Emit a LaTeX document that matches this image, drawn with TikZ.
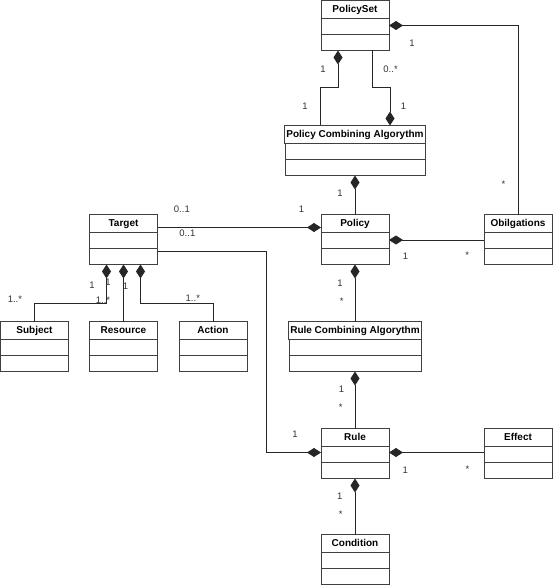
\documentclass[tikz,border=0pt]{standalone}
\usepackage{fontspec}
\setmainfont{Liberation Sans}
\usetikzlibrary{positioning, arrows.meta}

\begin{document}
\begin{tikzpicture}
[
>={Diamond[length=14pt, width=9pt]},
box-a/.style={draw=black!75, line width=0.9pt, minimum width=#1, minimum height=18pt, inner xsep=1.5pt, inner ysep=0pt, outer sep=0pt, text height=7.5pt, text depth=2pt, font=\fontsize{10}{12}\selectfont\bfseries},
box-a/.default=68pt,
box-b/.style={draw=black!75, line width=0.9pt, minimum width=#1, minimum height=32pt, inner sep=0pt, outer sep=0pt, path picture={\draw [black!75, line width=0.9pt] (path picture bounding box.west) -- (path picture bounding box.east);}},
box-b/.default=68pt,
text-a/.style={inner sep=0pt, text height=7pt, text depth=0pt, text=black!80, font=\fontsize{9.5}{11}\selectfont},
link-s/.style={draw=black!85, line width=0.9pt, <-},
link-e/.style={draw=black!85, line width=0.9pt, ->}
]

\useasboundingbox (0pt,0pt) rectangle (553pt,-585pt);

\node (set)        [box-a, anchor=north] at (355pt,-0.5pt)     {PolicySet};
\node (set-b)      [box-b, below =  00.00pt of set]            {};
\node (pca)        [box-a=140pt, below =  75.00pt of set-b]    {Policy Combining Algorythm};
\node (pca-b)      [box-b=140pt, below =  00.00pt of pca]      {};
\node (policy)     [box-a, below =  39.00pt of pca-b]          {Policy};
\node (policy-b)   [box-b, below =  00.00pt of policy]         {};
\node (rca)        [box-a=132pt, below =  57.00pt of policy-b] {Rule Combining Algorythm};
\node (rca-b)      [box-b=132pt, below =  00.00pt of rca]      {};
\node (rule)       [box-a, below =  57.00pt of rca-b]          {Rule};
\node (rule-b)     [box-b, below =  00.00pt of rule]           {};
\node (cond)       [box-a, below =  56.00pt of rule-b]         {Condition};
\node (cond-b)     [box-b, below =  00.00pt of cond]           {};
\node (obl)        [box-a, right =  95.00pt of policy]         {Obilgations};
\node (obl-b)      [box-b, below =  00.00pt of obl]            {};
\node (effect)     [box-a, right =  95.00pt of rule]           {Effect};
\node (effect-b)   [box-b, below =  00.00pt of effect]         {};
\node (target)     [box-a, left  = 163.50pt of policy]         {Target};
\node (target-b)   [box-b, below =  00.00pt of target]         {};
\node (resource)   [box-a, below =  57.00pt of target-b]       {Resource};
\node (resource-b) [box-b, below =  00.00pt of resource]       {};
\node (subject)    [box-a, left  =  21.00pt of resource]       {Subject};
\node (subject-b)  [box-b, below =  00.00pt of subject]        {};
\node (action)     [box-a, right =  21.50pt of resource]       {Action};
\node (action-b)   [box-b, below =  00.00pt of action]         {};

\draw [link-s] ([xshift=-17pt]set-b.south) -- node[text-a, left = 12pt] {1} ++(0pt,-37pt)
               -| node[text-a, pos=0.75, left = 12pt] {1} ([xshift=-35pt]pca.north);
\draw [link-e] ([xshift=17pt]set-b.south) -- node[text-a, right = 11pt] {0..*} ++(0pt,-37pt)
               -| node[text-a, pos=0.75, right = 10.5pt] {1} ([xshift=35pt]pca.north);
\draw [link-s] ([yshift=-7pt]set-b.north east) -| node[text-a, at start, below right = 13.5pt and 20pt] {1}
               node[text-a, pos=0.92, left = 12.2pt] {*} (obl.north);
\draw [link-s] (pca-b.south) -- node[text-a, pos=0.45, left = 12pt] {1} (policy.north);
\draw [link-e] ([yshift=-4pt]target.east) -- node[text-a, at start, above right = 15pt and 16pt] {0..1}
               node[text-a, at end, above left = 15pt and 16.5pt] {1} ([yshift=-4pt]policy.west);
\draw [link-e] ([yshift=-3pt]target-b.east) -- node[text-a, at start, above right = 14.5pt and 21.5pt] {0..1} ++(109pt,0pt)
               |- node[text-a, at end, above left = 15pt and 23pt] {1} ([yshift=-6pt]rule-b.north west);
\draw [link-s] ([yshift=-7.5pt]policy-b.north east) -- node[text-a, at start, below right = 12.5pt and 13.5pt] {1}
               node[text-a, at end, below left = 11.5pt and 14.5pt] {*} ([yshift=-7.5pt]obl-b.north west);
\draw [link-s] (policy-b.south) -- node[text-a, at start, below left = 14.5pt and 12pt] {1}
               node[text-a, at start, below left = 32.5pt and 11pt] {*} (rca.north);
\draw [link-s] (rca-b.south) -- node[text-a, at start, below left = 14pt and 10.5pt] {1}
               node[text-a, at start, below left = 32pt and 12pt] {*} (rule.north);
\draw [link-s] ([yshift=-6pt]rule-b.north east) -- node[text-a, at start, below right = 13.3pt and 13.2pt] {1}
               node[text-a, at end, below left = 13pt and 14.2pt] {*} ([yshift=-6pt]effect-b.north west);
\draw [link-s] (rule-b.south) -- node[text-a, at start, below left = 14pt and 12.2pt] {1}
               node[text-a, at start, below left = 31.7pt and 12pt] {*} (cond.north);
\draw [link-s] ([xshift=-17pt]target-b.south) -- node[text-a, at start, below left = 16.7pt and 11.5pt] {1} ++(0pt,-39pt)
               -| node[text-a, at end, above left = 18.5pt and 12pt] {1..*} (subject.north);
\draw [link-s] (target-b.south) -- node[text-a, at start, below left = 14pt and 12.4pt] {1}
               node[text-a, at end, above left = 17.5pt and 12.9pt] {1..*} (resource.north);
\draw [link-s] ([xshift=17pt]target-b.south) -- node[text-a, at start, below left = 17.3pt and 12pt] {1} ++(0pt,-39pt)
               -| node[text-a, at end, above left = 19.7pt and 12.6pt] {1..*} (action.north);

\end{tikzpicture}
\end{document}
